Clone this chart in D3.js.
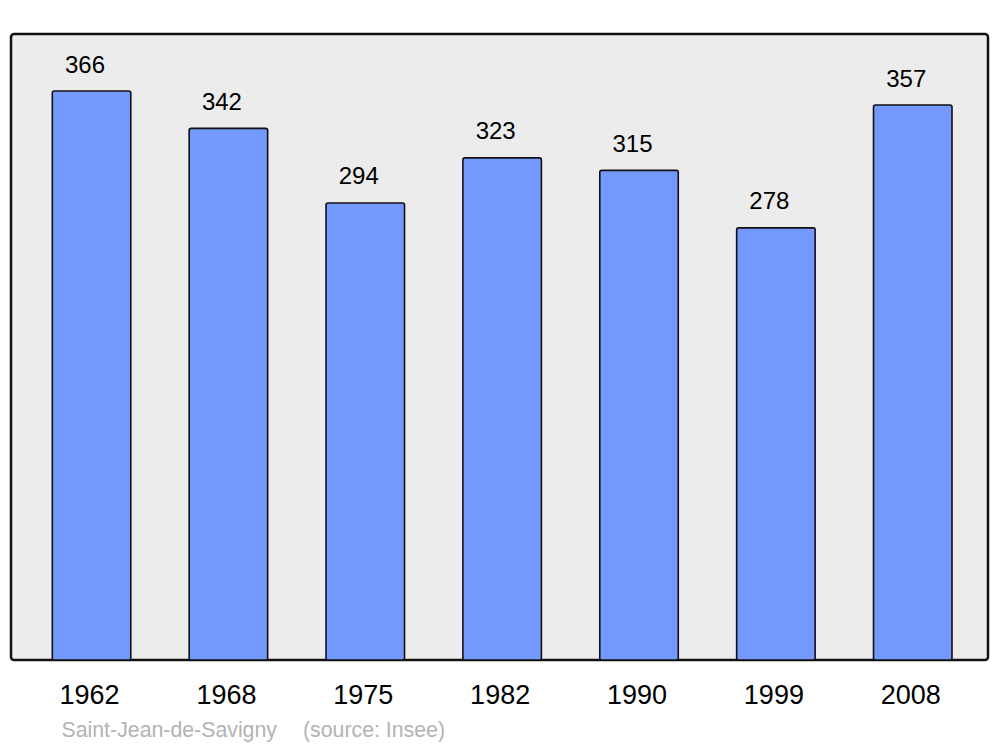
<!DOCTYPE html>
<html><head><meta charset="utf-8">
<script src="https://cdn.jsdelivr.net/npm/d3@7"></script>
<style>body{margin:0;background:#fff}svg{display:block}text{font-family:"Liberation Sans",Arial,sans-serif}</style>
</head><body>
<svg id="c" width="1000" height="747"></svg>
<script>
const years = ["1962","1968","1975","1982","1990","1999","2008"];
const population = [366,342,294,323,315,278,357];
const place = "Saint-Jean-de-Savigny";
const source = "(source: Insee)";

const svg = d3.select("#c");
const x = d3.scaleBand().domain(years).range([52.3, 952]).paddingInner(0.4266).paddingOuter(0);
const y = d3.scaleLinear().domain([0, 400]).range([660, 38.2]);

svg.append("rect").attr("x",11).attr("y",34).attr("width",977).attr("height",626)
  .attr("rx",3).attr("fill","#ececec").attr("stroke","#111").attr("stroke-width",2.5);

svg.selectAll("rect.bar").data(population).join("rect").attr("class","bar")
  .attr("x",(d,i)=>x(years[i])).attr("y",d=>y(d))
  .attr("width",x.bandwidth()).attr("height",d=>y(0)-y(d))
  .attr("rx",2).attr("fill","#7399ff").attr("stroke","#111").attr("stroke-width",1.6);

svg.selectAll("text.val").data(population).join("text").attr("class","val")
  .attr("x",(d,i)=>x(years[i])+x.bandwidth()/2-6.5).attr("y",d=>y(d)-18.5)
  .attr("text-anchor","middle").attr("font-size",24).attr("fill","#000").text(d=>d);

const ax = svg.append("g").attr("transform","translate(0,660)")
  .call(d3.axisBottom(x).tickSize(0).tickPadding(0));
ax.select(".domain").remove();
ax.selectAll("text").attr("font-size",27).attr("fill","#000")
  .attr("font-family","\"Liberation Sans\",Arial,sans-serif")
  .attr("dy",null).attr("y",44).attr("dx",-2);

svg.append("text").attr("x",61.5).attr("y",737).attr("font-size",21.3).attr("fill","#b3b3b3").text(place);
svg.append("text").attr("x",303).attr("y",737).attr("font-size",21.3).attr("fill","#b3b3b3").text(source);
</script>
</body></html>
